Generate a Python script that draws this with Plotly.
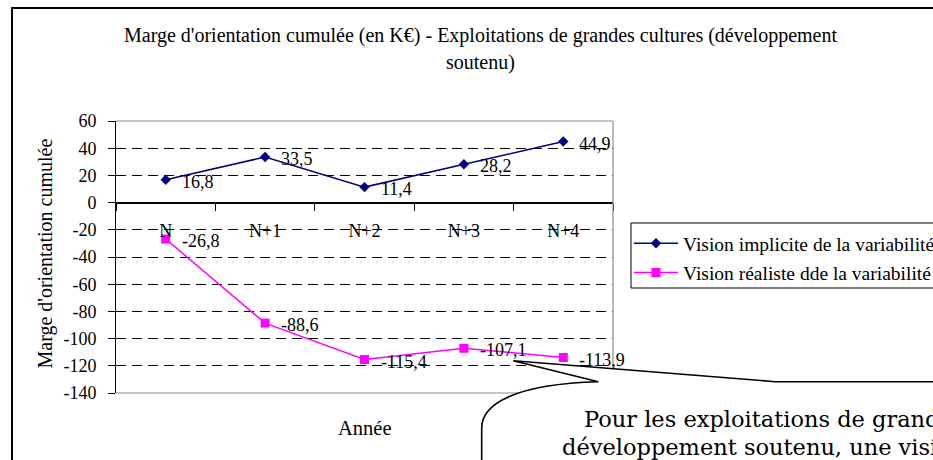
import plotly.graph_objects as go

# ---- data ----
categories = ["N", "N+1", "N+2", "N+3", "N+4"]
implicite = [16.8, 33.5, 11.4, 28.2, 44.9]
realiste = [-26.8, -88.6, -115.4, -107.1, -113.9]
implicite_labels = ["16,8", "33,5", "11,4", "28,2", "44,9"]
realiste_labels = ["-26,8", "-88,6", "-115,4", "-107,1", "-113,9"]
y_ticks = [60, 40, 20, 0, -20, -40, -60, -80, -100, -120, -140]
y_tick_labels = ["60", "40", "20", "0", "-20", "-40", "-60", "-80", "-100", "-120", "-140"]
serie_names = ["Vision implicite de la variabilité", "Vision réaliste dde la variabilité"]
title_lines = ["Marge d'orientation cumulée (en K€) - Exploitations de grandes cultures (développement",
               "soutenu)"]
bubble_lines = ["Pour les exploitations de grandes cultures en",
                "développement soutenu, une vision réaliste"]

W, H = 933, 460
L, R, T, B = 116, 320, 121, 67
PW, PH = W - L - R, H - T - B
SERIF = "Liberation Serif, Times New Roman, serif"


def px(x):
    return (x - L) / PW


def py(y):
    return (H - B - y) / PH


fig = go.Figure()
fig.add_trace(go.Scatter(
    x=categories, y=implicite, name=serie_names[0], mode="lines+markers",
    line=dict(color="#000080", width=1.5),
    marker=dict(symbol="diamond", size=8, color="#000080"),
    legendgroup="a", cliponaxis=False))
fig.add_trace(go.Scatter(
    x=categories, y=realiste, name=serie_names[1], mode="lines+markers",
    line=dict(color="#FF00FF", width=1.5),
    marker=dict(symbol="square", size=9, color="#FF00FF"),
    legendgroup="b", cliponaxis=False))

annotations = []
# data labels, attached to the data points through the axes
for vals, labs in [(implicite, implicite_labels), (realiste, realiste_labels)]:
    for c, v, t in zip(categories, vals, labs):
        annotations.append(dict(x=c, y=v, xref="x", yref="y", text=t, showarrow=False,
                                xanchor="left", yanchor="middle", xshift=14, yshift=-2,
                                font=dict(family=SERIF, size=18, color="black")))

shapes = []
# outer chart frame
shapes.append(dict(type="rect", xref="paper", yref="paper",
                   x0=px(12), x1=px(950), y0=py(8), y1=py(475),
                   line=dict(color="black", width=2), layer="above"))
# plot area border (top, right, bottom) in gray
for (x0, y0, x1, y1) in [(0, 1, 1, 1), (1, 0, 1, 1), (0, 0, 1, 0)]:
    shapes.append(dict(type="line", xref="paper", yref="paper", x0=x0, y0=y0, x1=x1, y1=y1,
                       line=dict(color="#8c8c8c", width=1.2), layer="above"))
# legend frame
shapes.append(dict(type="rect", xref="paper", yref="paper",
                   x0=px(631), x1=px(960), y0=py(223), y1=py(288),
                   line=dict(color="black", width=1), layer="above"))
# callout bubble
d = (f"M {px(513.3)},{py(360.7)} L {px(775)},{py(381.7)} L {px(960)},{py(381.7)} "
     f"L {px(960)},{py(480)} L {px(481.7)},{py(480)} L {px(481.7)},{py(428)} "
     f"C {px(481.7)},{py(404)} {px(515)},{py(384)} {px(598.3)},{py(381.7)} Z")
shapes.append(dict(type="path", xref="paper", yref="paper", path=d,
                   fillcolor="white", line=dict(color="black", width=1.6), layer="above"))


def txt(text, x, y, size, family=SERIF, xanchor="center", angle=0):
    return dict(text=text, x=px(x), y=py(y), xref="paper", yref="paper",
                xanchor=xanchor, yanchor="middle", showarrow=False, textangle=angle,
                font=dict(family=family, size=size, color="black"))


annotations += [
    txt(title_lines[0], 480, 35, 20),
    txt(title_lines[1], 480, 62, 20),
    txt("Marge d'orientation cumulée", 45, 253.5, 20, angle=-90),
    txt("Année", 364.5, 428, 20.5),
    txt(bubble_lines[0], 581.7, 419, 22.5, family="DejaVu Serif, serif", xanchor="left"),
    txt(bubble_lines[1], 560, 447, 22.5, family="DejaVu Serif, serif", xanchor="left"),
]

fig.update_layout(
    width=W, height=H,
    margin=dict(l=L, r=R, t=T, b=B, autoexpand=False),
    paper_bgcolor="white", plot_bgcolor="white",
    showlegend=True,
    legend=dict(x=px(629), y=py(224), xanchor="left", yanchor="top",
                bgcolor="rgba(0,0,0,0)", borderwidth=0, tracegroupgap=1,
                itemwidth=44,
                font=dict(family=SERIF, size=19.5, color="black")),
    shapes=shapes, annotations=annotations,
    font=dict(family=SERIF, color="black"),
)
fig.update_xaxes(
    type="category", range=[-0.5, 4.5], anchor="free", position=0.7,
    showline=True, linecolor="black", linewidth=1,
    ticks="outside", tickson="boundaries", ticklen=7, tickcolor="black",
    ticklabelstandoff=12,
    showgrid=False, zeroline=False,
    tickfont=dict(family=SERIF, size=18, color="black"))
fig.update_yaxes(
    range=[-140, 60], tickmode="array", tickvals=y_ticks, ticktext=y_tick_labels,
    showline=True, linecolor="black", linewidth=1,
    ticks="outside", ticklen=7, tickcolor="black", ticklabelstandoff=8,
    showgrid=True, gridcolor="black", gridwidth=1, griddash="10px,6px",
    zeroline=True, zerolinecolor="black", zerolinewidth=1,
    tickfont=dict(family=SERIF, size=18, color="black"))

fig.write_html("out.html", config={"displayModeBar": False},
               post_script="document.body.style.margin='0';document.body.style.overflow='hidden';")
